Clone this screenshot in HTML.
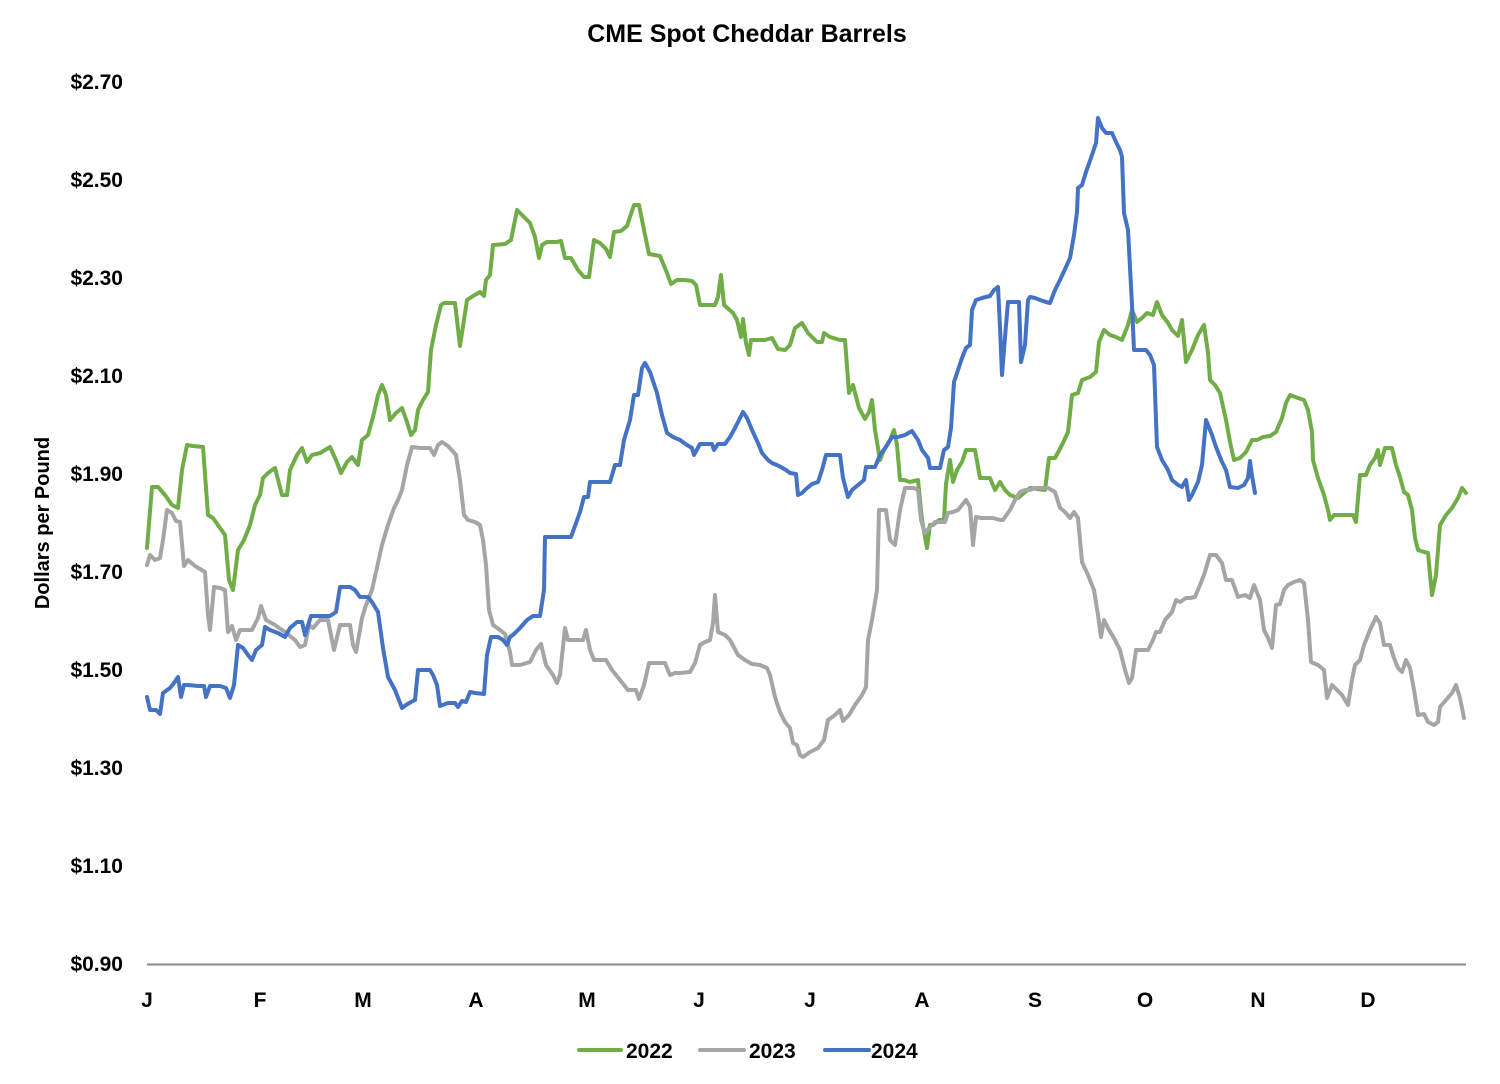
<!DOCTYPE html>
<html><head><meta charset="utf-8"><style>
html,body{margin:0;padding:0;background:#fff;}
svg{display:block;font-family:"Liberation Sans",Arial,sans-serif;font-weight:bold;}
</style></head><body>
<svg width="1500" height="1084" viewBox="0 0 1500 1084" xmlns="http://www.w3.org/2000/svg">
<text x="747" y="42" font-size="25" text-anchor="middle" fill="#000">CME Spot Cheddar Barrels</text>
<g font-size="21" text-anchor="end" fill="#000">
<text x="123" y="89">$2.70</text>
<text x="123" y="187">$2.50</text>
<text x="123" y="285">$2.30</text>
<text x="123" y="383">$2.10</text>
<text x="123" y="481">$1.90</text>
<text x="123" y="579">$1.70</text>
<text x="123" y="677">$1.50</text>
<text x="123" y="775">$1.30</text>
<text x="123" y="873">$1.10</text>
<text x="123" y="971">$0.90</text>
</g>
<text transform="translate(49,523) rotate(-90)" font-size="20" text-anchor="middle" fill="#000">Dollars per Pound</text>
<line x1="147" y1="964.5" x2="1466" y2="964.5" stroke="#888" stroke-width="2"/>
<g font-size="21" text-anchor="middle" fill="#000">
<text x="147" y="1007">J</text><text x="260" y="1007">F</text><text x="363" y="1007">M</text><text x="476" y="1007">A</text><text x="587" y="1007">M</text><text x="699" y="1007">J</text><text x="810" y="1007">J</text><text x="922" y="1007">A</text><text x="1035" y="1007">S</text><text x="1145" y="1007">O</text><text x="1258" y="1007">N</text><text x="1368" y="1007">D</text>
</g>
<g fill="none" stroke-width="4" stroke-linejoin="round" stroke-linecap="round">
<polyline stroke="#70AD47" points="147,548 152,487 158,487 165,495 172,505 178,508 182,470 187,445 193,446 203,447 208,515 213,518 220,528 225,535 229,580 233,590 238,550 244,540 250,525 255,505 260,495 263,478 268,473 275,468 282,495 287,495 290,470 297,455 302,448 307,462 312,455 320,453 330,447 336,460 341,473 347,462 352,457 358,465 362,440 368,435 373,417 378,395 382,385 386,395 390,420 396,413 402,408 407,422 411,435 415,430 418,410 423,400 428,392 431,350 436,325 441,305 444,303 455,303 460,346 467,300 473,296 480,292 484,296 486,280 490,275 493,245 505,244 511,240 517,210 522,215 530,223 535,237 539,258 542,245 547,242 557,242 561,241 565,258 571,258 578,270 584,277 589,277 594,240 600,243 606,249 610,257 614,232 621,231 627,226 634,205 639,205 644,230 649,254 660,256 667,273 671,284 677,280 685,280 692,281 696,285 700,305 715,305 718,297 721,275 724,305 733,313 737,320 741,337 743,319 746,343 749,355 751,340 760,340 765,340 772,338 778,349 785,350 790,345 795,328 802,323 808,333 813,338 817,342 822,342 824,333 830,337 840,340 845,340 849,393 853,385 859,408 865,419 869,412 872,400 875,430 880,460 884,450 890,440 894,430 897,445 900,480 904,480 910,482 918,480 922,520 927,548 930,525 933,525 939,520 944,520 946,484 950,460 953,482 957,470 962,462 966,450 975,450 980,478 990,478 995,490 1000,482 1005,490 1010,495 1018,498 1030,488 1045,490 1049,458 1055,458 1062,445 1068,432 1072,395 1078,393 1082,380 1090,377 1096,372 1099,342 1104,330 1110,335 1116,337 1122,340 1128,325 1132,310 1137,322 1142,318 1147,313 1153,315 1157,302 1162,315 1168,323 1172,330 1178,336 1182,320 1186,362 1192,350 1198,335 1204,325 1208,353 1210,380 1215,385 1220,393 1226,420 1230,442 1234,460 1240,458 1246,452 1252,440 1257,440 1263,437 1270,436 1276,432 1282,418 1286,403 1290,395 1298,398 1304,400 1308,410 1312,432 1313,460 1318,478 1324,495 1328,510 1330,520 1334,515 1345,515 1353,515 1356,522 1360,475 1366,475 1370,465 1375,458 1378,450 1380,465 1385,448 1392,448 1396,465 1400,477 1404,492 1408,495 1412,510 1415,538 1418,550 1424,552 1428,553 1432,595 1436,575 1440,525 1446,515 1452,508 1458,498 1462,488 1466,493"/>
<polyline stroke="#A5A5A5" points="147,565 150,555 155,560 160,558 163,540 167,510 172,513 176,521 180,522 184,566 188,560 195,566 205,572 208,615 210,630 214,587 220,588 225,590 228,632 232,626 236,640 240,630 245,630 252,630 258,618 261,606 266,620 275,625 285,632 295,640 300,647 305,645 309,625 313,628 320,620 328,620 334,650 340,625 350,625 353,645 356,652 360,630 362,618 366,605 372,590 376,572 382,545 388,525 394,508 398,500 402,490 407,465 412,447 420,448 430,448 434,455 438,445 442,442 448,446 456,455 460,480 464,515 468,520 475,522 480,525 483,540 486,565 489,610 493,625 500,630 505,634 510,652 512,665 520,665 530,662 536,650 541,644 546,665 553,675 557,683 560,675 565,628 568,640 575,640 583,640 586,630 590,650 594,660 600,660 606,660 612,670 620,680 628,690 636,690 639,699 644,685 649,663 658,663 665,663 670,675 675,673 680,673 690,672 695,663 700,645 705,642 710,640 713,623 715,595 718,632 725,635 730,640 738,655 745,660 752,664 760,665 767,668 770,675 775,697 780,712 785,722 790,728 793,743 797,745 800,755 803,757 810,752 818,748 824,740 828,720 835,715 840,710 843,721 849,715 855,705 862,695 866,687 868,640 872,620 877,590 879,510 886,510 890,540 895,545 900,510 905,488 908,488 914,488 918,490 921,520 925,533 930,527 935,522 940,522 945,522 948,513 953,512 958,510 962,505 966,500 970,507 973,545 976,517 981,518 988,518 993,518 1000,520 1003,520 1010,510 1015,500 1020,492 1025,490 1030,490 1035,488 1040,488 1048,488 1055,492 1060,508 1065,512 1070,518 1074,512 1078,518 1082,562 1088,575 1094,590 1098,615 1101,637 1104,620 1108,628 1115,640 1120,650 1125,670 1129,683 1132,678 1136,650 1142,650 1148,650 1153,640 1156,632 1160,632 1165,620 1172,612 1176,600 1180,602 1186,598 1190,598 1195,597 1200,585 1204,575 1210,555 1216,555 1222,563 1226,580 1232,580 1238,597 1245,595 1250,598 1254,585 1260,600 1264,630 1268,638 1272,648 1276,605 1280,604 1284,590 1288,585 1294,582 1300,580 1304,583 1308,620 1311,662 1318,665 1324,670 1327,698 1332,685 1337,690 1342,695 1348,705 1352,680 1355,665 1360,660 1364,645 1370,630 1376,617 1380,623 1384,645 1390,645 1394,658 1398,668 1402,672 1406,660 1410,668 1414,690 1418,715 1424,714 1428,722 1434,725 1438,722 1440,707 1446,700 1452,693 1456,685 1460,698 1464,718"/>
<polyline stroke="#4472C4" points="147,697 150,710 156,710 160,714 163,693 170,688 174,683 178,677 181,697 184,685 188,685 198,686 204,686 206,697 210,686 220,686 226,688 230,698 234,685 238,645 243,648 248,655 252,660 256,650 262,645 265,627 270,630 278,633 285,637 290,628 297,622 302,622 305,635 311,616 320,616 330,616 336,612 340,587 350,587 355,590 360,597 368,597 372,602 378,612 383,648 388,677 395,690 402,708 406,705 411,702 415,700 418,670 430,670 433,675 437,685 440,706 448,703 455,703 458,707 462,701 466,702 470,692 475,693 484,694 487,655 491,637 498,637 503,640 507,645 510,637 514,634 520,628 527,620 533,616 540,616 544,590 545,537 555,537 571,537 580,512 584,497 588,497 590,482 600,482 610,482 615,465 620,465 624,440 630,420 634,395 638,395 642,368 645,363 650,372 657,393 662,415 667,433 673,437 680,440 687,445 692,448 694,455 700,444 706,444 712,444 714,450 718,444 725,444 730,437 735,428 740,418 743,412 747,418 752,430 758,443 762,453 768,460 772,463 779,466 786,470 790,473 796,474 798,495 802,493 806,489 812,484 818,482 822,470 826,455 840,455 843,478 848,497 852,490 858,485 864,480 866,467 875,467 880,455 886,447 892,437 898,437 905,435 912,431 918,440 922,450 928,458 930,468 940,468 944,450 948,447 951,428 954,382 958,370 962,358 966,348 970,345 972,310 976,300 982,298 990,296 994,290 998,287 1000,327 1002,375 1006,325 1008,302 1015,302 1019,302 1021,362 1025,345 1028,300 1030,297 1035,298 1040,300 1046,302 1050,303 1055,290 1060,280 1066,267 1070,258 1074,235 1077,212 1078,188 1082,185 1086,172 1092,155 1096,143 1098,118 1102,128 1106,133 1112,133 1116,142 1120,150 1122,157 1124,213 1128,230 1132,305 1134,350 1146,350 1150,355 1154,365 1157,447 1162,460 1168,470 1172,480 1178,485 1182,487 1186,480 1189,500 1192,495 1198,482 1202,465 1206,420 1212,435 1216,447 1222,462 1226,470 1230,487 1238,488 1244,485 1248,478 1250,461 1252,476 1255,493"/>
</g>
<g stroke-width="4" stroke-linecap="round">
<line x1="579" y1="1050" x2="621" y2="1050" stroke="#70AD47"/>
<line x1="700" y1="1050" x2="744" y2="1050" stroke="#A5A5A5"/>
<line x1="825" y1="1050" x2="869" y2="1050" stroke="#4472C4"/>
</g>
<g font-size="21" fill="#000">
<text x="626" y="1058">2022</text>
<text x="749" y="1058">2023</text>
<text x="871" y="1058">2024</text>
</g>
</svg>
</body></html>
